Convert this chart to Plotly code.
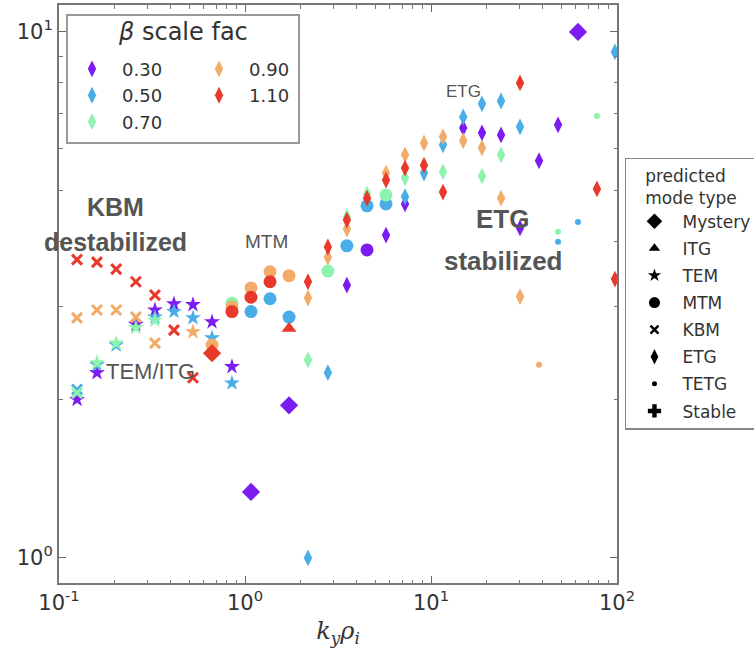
import plotly.graph_objects as go

# ---------------- data ----------------
SCALE_LABELS = ["0.30", "0.50", "0.70", "0.90", "1.10"]
COLORS = ["#7b1cf0", "#49ade8", "#8ef3ae", "#f2ab68", "#e8392b"]

x_030 = [0.125, 0.160, 0.259, 0.328, 0.415, 0.525, 0.665, 0.851, 1.077, 1.725,
         3.53, 4.53, 5.73, 7.25, 14.9, 18.8, 23.8, 30.1, 38.1, 48.2, 61.7]
y_030 = [2.00, 2.25, 2.78, 2.96, 3.04, 3.03, 2.81, 2.31, 1.335, 1.95,
         3.30, 3.85, 4.11, 4.71, 6.57, 6.43, 6.37, 4.24, 5.69, 6.66, 10.0]
m_030 = ["TEM", "TEM", "TEM", "TEM", "TEM", "TEM", "TEM", "TEM", "Mystery", "Mystery",
         "ETG", "MTM", "ETG", "ETG", "ETG", "ETG", "ETG", "ETG", "ETG", "ETG", "Mystery"]

x_050 = [0.125, 0.160, 0.203, 0.328, 0.415, 0.525, 0.665, 0.851, 1.077, 1.363, 1.725,
         2.18, 2.79, 3.53, 4.53, 5.73, 7.25, 9.17, 11.6, 14.9, 18.8, 23.8, 30.1,
         48.2, 61.7, 97.5]
y_050 = [2.09, 2.33, 2.54, 2.87, 2.94, 2.86, 2.62, 2.15, 2.94, 3.11, 2.87,
         1.00, 2.25, 3.92, 4.67, 4.71, 4.86, 5.39, 6.10, 6.89, 7.30, 7.39, 6.60,
         3.99, 4.35, 9.16]
m_050 = ["KBM", "TEM", "TEM", "TEM", "TEM", "TEM", "TEM", "TEM", "MTM", "MTM", "MTM",
         "ETG", "ETG", "MTM", "MTM", "MTM", "ETG", "ETG", "ETG", "ETG", "ETG", "ETG", "ETG",
         "TETG", "TETG", "ETG"]

x_070 = [0.125, 0.160, 0.203, 0.259, 0.328, 0.851, 2.18, 2.79, 3.53, 4.53, 5.73,
         7.25, 11.6, 18.8, 23.8, 48.2, 78.0]
y_070 = [2.06, 2.35, 2.56, 2.74, 2.83, 3.05, 2.38, 3.51, 4.45, 4.92, 4.90,
         5.28, 5.42, 5.32, 5.84, 4.17, 6.92]
m_070 = ["KBM", "TEM", "TEM", "TEM", "TEM", "MTM", "ETG", "MTM", "ETG", "ETG", "MTM",
         "ETG", "ETG", "ETG", "ETG", "TETG", "TETG"]

x_090 = [0.125, 0.160, 0.203, 0.259, 0.328, 0.525, 0.665, 0.851, 1.077, 1.363, 1.725,
         2.18, 2.79, 3.53, 5.73, 7.25, 9.17, 11.6, 14.9, 18.8, 23.8, 30.1, 38.1]
y_090 = [2.86, 2.96, 2.96, 2.87, 2.56, 2.69, 2.54, 3.00, 3.26, 3.50, 3.44,
         3.12, 3.73, 4.22, 5.39, 5.84, 6.15, 6.32, 6.21, 6.02, 4.83, 3.14, 2.33]
m_090 = ["KBM", "KBM", "KBM", "KBM", "KBM", "TEM", "MTM", "MTM", "MTM", "MTM", "MTM",
         "ETG", "ETG", "ETG", "ETG", "ETG", "ETG", "ETG", "ETG", "ETG", "ETG", "ETG", "TETG"]

x_110 = [0.125, 0.160, 0.203, 0.259, 0.328, 0.415, 0.525, 0.665, 0.851, 1.077, 1.363,
         1.725, 2.18, 2.79, 3.53, 4.53, 5.73, 7.25, 9.17, 11.6, 30.1, 78.0, 97.5]
y_110 = [3.69, 3.65, 3.54, 3.35, 3.16, 2.71, 2.20, 2.45, 2.94, 3.13, 3.35,
         2.73, 3.35, 3.90, 4.39, 4.83, 5.23, 5.51, 5.58, 4.96, 8.00, 5.03, 3.39]
m_110 = ["KBM", "KBM", "KBM", "KBM", "KBM", "KBM", "KBM", "Mystery", "MTM", "MTM", "MTM",
         "ITG", "ETG", "ETG", "ETG", "ETG", "ETG", "ETG", "ETG", "ETG", "ETG", "ETG", "ETG"]

MODE_NAMES = ["Mystery", "ITG", "TEM", "MTM", "KBM", "ETG", "TETG", "Stable"]

X_TICKS = [0.1, 1, 10, 100]
X_TICKTEXT = ["10<sup>-1</sup>", "10<sup>0</sup>", "10<sup>1</sup>", "10<sup>2</sup>"]
X_MINOR = [0.2, 0.3, 0.4, 0.5, 0.6, 0.7, 0.8, 0.9, 2, 3, 4, 5, 6, 7, 8, 9,
           20, 30, 40, 50, 60, 70, 80, 90]
Y_TICKS = [1, 10]
Y_TICKTEXT = ["10<sup>0</sup>", "10<sup>1</sup>"]
Y_MINOR = [2, 3, 4, 5, 6, 7, 8, 9]

SERIES = [(x_030, y_030, m_030), (x_050, y_050, m_050), (x_070, y_070, m_070),
          (x_090, y_090, m_090), (x_110, y_110, m_110)]

# ---------------- styles ----------------
MODE_STYLE = {
    "Mystery": ("diamond", 14),
    "ITG": ("triangle-up", 13),
    "TEM": ("star", 12),
    "MTM": ("circle", 13),
    "KBM": ("x-thin", 10),
    "ETG": ("diamond-tall", 12),
    "TETG": ("circle", 6),
    "Stable": ("cross", 12),
}
LEGEND_MODE_SIZE = {"Mystery": 12, "ITG": 10, "TEM": 10, "MTM": 11, "KBM": 8,
                    "ETG": 11, "TETG": 5, "Stable": 11}

fig = go.Figure()

for (xs, ys, ms), color in zip(SERIES, COLORS):
    for mode in MODE_NAMES:
        px = [x for x, m in zip(xs, ms) if m == mode]
        py = [y for y, m in zip(ys, ms) if m == mode]
        if not px:
            continue
        sym, size = MODE_STYLE[mode]
        if mode == "KBM":
            marker = dict(symbol=sym, size=size, color=color,
                          line=dict(color=color, width=3))
        else:
            marker = dict(symbol=sym, size=size, color=color, line=dict(width=0))
        fig.add_trace(go.Scatter(x=px, y=py, mode="markers", marker=marker,
                                 showlegend=False, hoverinfo="skip"))

# colour legend (two columns -> two legends)
for i, (lab, color) in enumerate(zip(SCALE_LABELS, COLORS)):
    fig.add_trace(go.Scatter(
        x=[None], y=[None], mode="markers", name=lab,
        marker=dict(symbol="diamond-tall", size=12, color=color, line=dict(width=0)),
        legend="legend" if i < 3 else "legend3", legendgroup="c" + lab))

# mode legend
for mode in MODE_NAMES:
    sym = MODE_STYLE[mode][0]
    if mode == "KBM":
        marker = dict(symbol=sym, size=LEGEND_MODE_SIZE[mode], color="black",
                      line=dict(color="black", width=2.5))
    else:
        marker = dict(symbol=sym, size=LEGEND_MODE_SIZE[mode], color="black",
                      line=dict(width=0))
    fig.add_trace(go.Scatter(x=[None], y=[None], mode="markers", name=mode,
                             marker=marker, legend="legend2", legendgroup="m" + mode))

tickfont = dict(family="DejaVu Sans", size=21, color="#333")
axis_common = dict(
    type="log", showgrid=False, zeroline=False, showline=True, linecolor="#777",
    linewidth=2, mirror="allticks", ticks="inside", ticklen=7, tickwidth=1.3,
    tickcolor="#666", tickfont=tickfont, tickmode="array",
)

fig.update_xaxes(**axis_common, range=[-1, 2], tickvals=X_TICKS, ticktext=X_TICKTEXT,
                 minor=dict(ticks="inside", ticklen=3.5, tickwidth=1, tickcolor="#777",
                            showgrid=False, tickmode="array", tickvals=X_MINOR),
                 title=dict(text="<i>k</i><sub><i>y</i></sub><i>ρ</i><sub><i>i</i></sub>",
                            font=dict(family="DejaVu Serif", size=24, color="#333"),
                            standoff=8))
fig.update_yaxes(**axis_common, range=[-0.0477, 1.0512], tickvals=Y_TICKS,
                 ticktext=Y_TICKTEXT,
                 minor=dict(ticks="inside", ticklen=3.5, tickwidth=1, tickcolor="#777",
                            showgrid=False, tickmode="array", tickvals=Y_MINOR))

bold = dict(family="Liberation Sans", size=25, color="#555")
norm = dict(family="Liberation Sans", color="#555")
annos = [
    ("<b>KBM</b>", 0.1004, 0.6505, bold),
    ("<b>destabilized</b>", 0.1004, 0.5900, bold),
    ("MTM", 0.3710, 0.5900, dict(norm, size=19)),
    ("TEM/ITG", 0.1631, 0.3651, dict(norm, size=22)),
    ("<b>ETG</b>", 0.7953, 0.6300, dict(bold, size=26)),
    ("<b>stabilized</b>", 0.7953, 0.5570, dict(bold, size=26)),
    ("ETG", 0.7258, 0.8512, dict(norm, size=17)),
    ("<i>β</i> scale fac", 0.2222, 0.9540, dict(family="DejaVu Sans", size=24, color="#333")),
]
for text, ax, ay, font in annos:
    fig.add_annotation(text=text, x=ax, y=ay, xref="paper", yref="paper",
                       showarrow=False, font=font, xanchor="center", yanchor="middle")

fig.add_shape(type="rect", xref="paper", yref="paper", x0=0.0143, x1=0.4301,
              y0=0.7612, y1=0.9827, line=dict(color="#999", width=2),
              fillcolor="rgba(255,255,255,0.8)", layer="below")

leg_font = dict(family="DejaVu Sans", size=18, color="#333")
fig.update_layout(
    width=754, height=656, autosize=False,
    margin=dict(l=59, r=137, t=5, b=73, autoexpand=False),
    paper_bgcolor="white", plot_bgcolor="white",
    legend=dict(x=0.0054, y=0.921, xanchor="left", yanchor="top", font=leg_font,
                bgcolor="rgba(0,0,0,0)", borderwidth=0, itemwidth=50,
                traceorder="grouped", tracegroupgap=0),
    legend3=dict(x=0.233, y=0.921, xanchor="left", yanchor="top", font=leg_font,
                 bgcolor="rgba(0,0,0,0)", borderwidth=0, itemwidth=50,
                 traceorder="grouped", tracegroupgap=0),
    legend2=dict(x=1.0143, y=0.7353, xanchor="left", yanchor="top",
                 font=dict(family="DejaVu Sans", size=17, color="#333"),
                 title=dict(text="predicted<br>mode type", side="top center",
                            font=dict(family="DejaVu Sans", size=17, color="#333")),
                 bgcolor="white", bordercolor="#888", borderwidth=1.5, itemwidth=46,
                 traceorder="grouped", tracegroupgap=2),
)

fig.write_html("out.html")
